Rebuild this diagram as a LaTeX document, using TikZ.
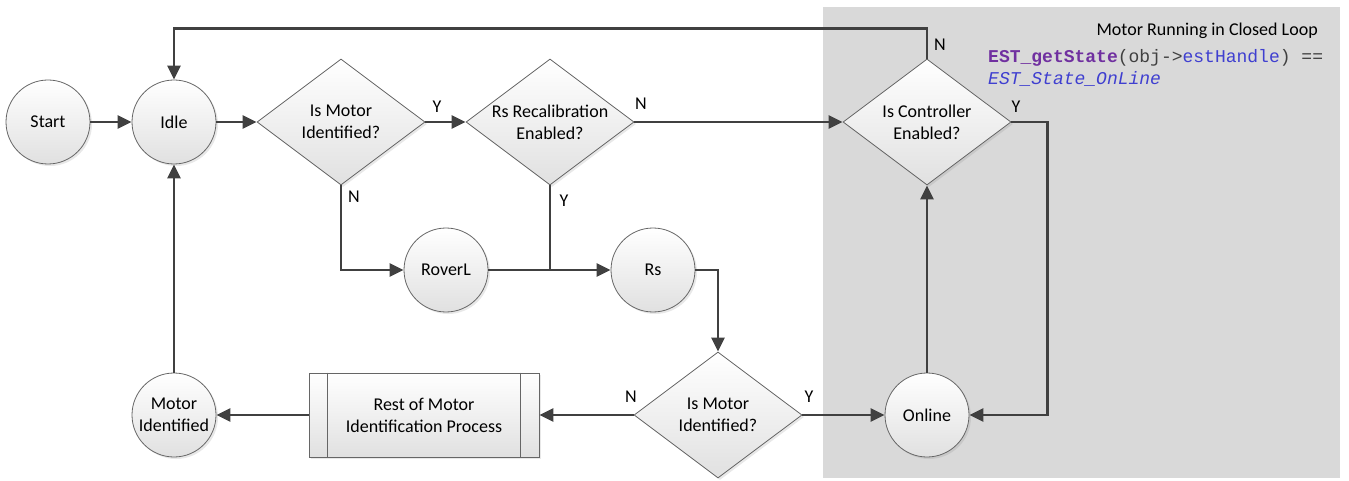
\documentclass[tikz,border=0pt]{standalone}
\usepackage{fontspec}
\setmainfont{Carlito}
\setmonofont{Liberation Mono}
\usetikzlibrary{arrows.meta,shapes.geometric,shadows}
\definecolor{ln}{HTML}{404040}
\definecolor{bgc}{HTML}{D9D9D9}
\definecolor{cpurple}{HTML}{7030A0}
\definecolor{cblue}{HTML}{3F3FD0}
\definecolor{cgray}{HTML}{404040}
\begin{document}
\begin{tikzpicture}[x=1pt,y=-1pt, font=\fontsize{18}{22}\selectfont,
 shp/.style={draw=black!60, line width=0.8pt, top color=white, bottom color=black!12,
   drop shadow={opacity=0.18,shadow xshift=2pt,shadow yshift=-2pt}},
 circ/.style={shp, circle, minimum size=84pt, inner sep=0pt, align=center},
 dia/.style={shp, diamond, minimum width=168pt, minimum height=126pt, inner sep=0pt},
 conn/.style={draw=ln, line width=2.5pt, -{Triangle[length=14pt,width=13pt]}},
 seg/.style={draw=ln, line width=2.5pt},
 yn/.style={inner sep=0pt}]
\useasboundingbox (0,0) rectangle (1349,481);
\fill[bgc] (823,7) rectangle (1340,478);

\node[circ] (start) at (48,122) {Start};
\node[circ] (idle) at (174,122) {Idle};
\node[dia, label={[align=center]center:Is Motor\\Identified?}] (d1) at (341,122) {};
\node[dia, label={[align=center]center:Rs Recalibration\\Enabled?}] (d2) at (550,122) {};
\node[dia, label={[align=center]center:Is Controller\\Enabled?}] (d3) at (927,122) {};
\node[circ] (roverl) at (446,270) {RoverL};
\node[circ] (rs) at (653,270) {Rs};
\node[dia, label={[align=center]center:Is Motor\\Identified?}] (d4) at (718,415) {};
\node[circ] (online) at (927,415) {Online};
\node[circ] (mi) at (174,415) {Motor\\Identified};
\node[shp, rectangle, minimum width=230pt, minimum height=84pt, inner sep=0pt, align=center] (rest) at (424,415) {Rest of Motor\\Identification Process};
\draw[draw=black!60, line width=0.8pt] ([xshift=19pt]rest.north west) -- ([xshift=19pt]rest.south west);
\draw[draw=black!60, line width=0.8pt] ([xshift=-19pt]rest.north east) -- ([xshift=-19pt]rest.south east);

\draw[conn] (start) -- (idle);
\draw[conn] (idle) -- (d1);
\draw[conn] (d1) -- (d2);
\draw[conn] (d2) -- (d3);
\draw[conn] (d3.north) -- ++(0,-30) -| (idle.north);
\draw[conn] (d3.east) -- ++(36,0) |- (online.east);
\draw[conn] (online) -- (d3);
\draw[conn] (d1.south) |- (roverl.west);
\draw[conn] (roverl) -- (rs);
\draw[seg] (d2.south) -- (d2.south |- roverl.east);
\draw[conn] (rs.east) -| (d4.north);
\draw[conn] (d4.west) -- (rest.east);
\draw[conn] (d4) -- (online);
\draw[conn] (rest.west) -- (mi);
\draw[conn] (mi) -- (idle);

\node[yn] at (437,107) {Y};
\node[yn] at (641,104) {N};
\node[yn] at (354,197) {N};
\node[yn] at (564,201) {Y};
\node[yn] at (940,45) {N};
\node[yn] at (1016,107) {Y};
\node[yn] at (631,397) {N};
\node[yn] at (809,397) {Y};

\node[anchor=east, inner sep=0pt] (title) at (1318,31) {Motor Running in Closed Loop};
\node[anchor=west, inner sep=0pt, font=\fontsize{18}{22}\selectfont\ttfamily] (code1) at (988,58)
 {\textcolor{cpurple}{\bfseries EST\_getState}\textcolor{cgray}{(obj->}\textcolor{cblue}{estHandle}\textcolor{cgray}{) ==}};
\node[anchor=west, inner sep=0pt, font=\fontsize{18}{22}\selectfont\ttfamily\itshape, text=cblue] (code2) at (988,79) {EST\_State\_OnLine};
\end{tikzpicture}
\end{document}
